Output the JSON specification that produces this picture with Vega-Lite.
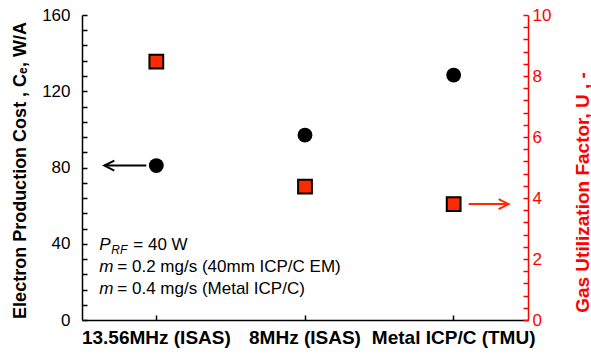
{
  "$schema": "https://vega.github.io/schema/vega-lite/v6.json",
  "width": 446,
  "height": 305,
  "autosize": {"type": "none"},
  "padding": {"left": 82, "top": 15, "right": 63, "bottom": 35},
  "config": {"font": "Liberation Sans", "view": {"stroke": null}, "axis": {"grid": false, "labelOverlap": false}},
  "datasets": {
    "main": [
      {"cat": "13.56MHz (ISAS)", "Ce": 81, "U": 8.47},
      {"cat": "8MHz (ISAS)", "Ce": 97, "U": 4.37},
      {"cat": "Metal ICP/C (TMU)", "Ce": 128.5, "U": 3.8}
    ],
    "notes": [
      {"seg": "P", "text": "P", "cat": "13.56MHz (ISAS)", "v": 39.3},
      {"seg": "RF", "text": "RF", "cat": "13.56MHz (ISAS)", "v": 39.3},
      {"seg": "eq1", "text": "= 40 W", "cat": "13.56MHz (ISAS)", "v": 39.3},
      {"seg": "m1", "text": "m", "cat": "13.56MHz (ISAS)", "v": 27.8},
      {"seg": "t1", "text": "= 0.2 mg/s (40mm ICP/C EM)", "cat": "13.56MHz (ISAS)", "v": 27.8},
      {"seg": "m2", "text": "m", "cat": "13.56MHz (ISAS)", "v": 16.3},
      {"seg": "t2", "text": "= 0.4 mg/s (Metal ICP/C)", "cat": "13.56MHz (ISAS)", "v": 16.3}
    ]
  },
  "data": {"name": "main"},
  "encoding": {
    "x": {
      "field": "cat",
      "type": "nominal",
      "sort": null,
      "axis": {
        "title": null,
        "labelAngle": 0,
        "labelFontSize": 19,
        "labelFontWeight": "bold",
        "labelColor": "black",
        "tickSize": -5,
        "tickColor": "black",
        "tickWidth": 1.5,
        "domainColor": "black",
        "domainWidth": 1.5,
        "labelPadding": 13
      }
    }
  },
  "layer": [
    {
      "layer": [
        {
          "mark": {"type": "circle", "size": 220, "color": "black", "opacity": 1},
          "encoding": {
            "y": {
              "field": "Ce",
              "type": "quantitative",
              "scale": {"domain": [0, 160]},
              "axis": {
                "values": [0, 8, 16, 24, 32, 40, 48, 56, 64, 72, 80, 88, 96, 104, 112, 120, 128, 136, 144, 152, 160],
                "tickCount": 100,
                "format": ".0f",
                "labelExpr": "datum.value % 40 == 0 ? datum.label : ''",
                "tickSize": -5,
                "tickColor": "black",
                "tickWidth": 1.5,
                "domainColor": "black",
                "domainWidth": 1.5,
                "labelFontSize": 17,
                "labelColor": "black",
                "labelPadding": 17,
                "title": "Electron Production Cost , Cₑ,  W/A",
                "titleFontSize": 18,
                "titleFontWeight": "bold",
                "titleColor": "black",
                "titleAngle": 270,
                "titleX": -62,
                "titleY": 155,
                "titleAlign": "center",
                "titleBaseline": "middle"
              }
            }
          }
        },
        {
          "transform": [{"filter": "datum.cat == '13.56MHz (ISAS)'"}],
          "mark": {"type": "rule", "xOffset": -52, "x2Offset": -10, "strokeWidth": 2, "color": "black"},
          "encoding": {
            "x2": {"field": "cat"},
            "y": {"field": "Ce", "type": "quantitative"}
          }
        },
        {
          "transform": [{"filter": "datum.cat == '13.56MHz (ISAS)'"}],
          "mark": {"type": "point", "shape": "M2,-1L0,0L2,1", "size": 100, "filled": false, "stroke": "black", "strokeWidth": 2, "xOffset": -52, "opacity": 1},
          "encoding": {
            "y": {"field": "Ce", "type": "quantitative"}
          }
        },
        {
          "data": {"name": "notes"},
          "transform": [{"filter": "datum.seg == 'P' || datum.seg == 'm1' || datum.seg == 'm2'"}],
          "mark": {"type": "text", "align": "left", "baseline": "middle", "dx": -57, "fontSize": 17, "fontStyle": "italic", "color": "black"},
          "encoding": {
            "y": {"field": "v", "type": "quantitative"},
            "text": {"field": "text"}
          }
        },
        {
          "data": {"name": "notes"},
          "transform": [{"filter": "datum.seg == 'RF'"}],
          "mark": {"type": "text", "align": "left", "baseline": "middle", "dx": -45, "dy": 5, "fontSize": 12, "fontStyle": "italic", "color": "black"},
          "encoding": {
            "y": {"field": "v", "type": "quantitative"},
            "text": {"field": "text"}
          }
        },
        {
          "data": {"name": "notes"},
          "transform": [{"filter": "datum.seg == 'eq1'"}],
          "mark": {"type": "text", "align": "left", "baseline": "middle", "dx": -23, "fontSize": 17, "color": "black"},
          "encoding": {
            "y": {"field": "v", "type": "quantitative"},
            "text": {"field": "text"}
          }
        },
        {
          "data": {"name": "notes"},
          "transform": [{"filter": "datum.seg == 't1' || datum.seg == 't2'"}],
          "mark": {"type": "text", "align": "left", "baseline": "middle", "dx": -39, "fontSize": 17, "color": "black"},
          "encoding": {
            "y": {"field": "v", "type": "quantitative"},
            "text": {"field": "text"}
          }
        }
      ]
    },
    {
      "layer": [
        {
          "mark": {"type": "square", "size": 190, "fill": "#ff2a00", "stroke": "black", "strokeWidth": 2, "filled": true, "opacity": 1},
          "encoding": {
            "y": {
              "field": "U",
              "type": "quantitative",
              "scale": {"domain": [0, 10]},
              "axis": {
                "orient": "right",
                "values": [0, 0.4, 0.8, 1.2, 1.6, 2, 2.4, 2.8, 3.2, 3.6, 4, 4.4, 4.8, 5.2, 5.6, 6, 6.4, 6.8, 7.2, 7.6, 8, 8.4, 8.8, 9.2, 9.6, 10],
                "tickCount": 100,
                "format": ".0f",
                "labelExpr": "abs(datum.value / 2 - round(datum.value / 2)) < 0.01 ? datum.label : ''",
                "tickSize": -5,
                "tickColor": "#ff0000",
                "tickWidth": 1.5,
                "domainColor": "#ff0000",
                "domainWidth": 1.5,
                "labelFontSize": 17,
                "labelColor": "#ff0000",
                "labelAlign": "left",
                "labelPadding": 9,
                "title": "Gas Utilization Factor, U , -",
                "titleFontSize": 19,
                "titleFontWeight": "bold",
                "titleColor": "#ff0000",
                "titleAngle": 270,
                "titleX": 54,
                "titleY": 177,
                "titleAlign": "center",
                "titleBaseline": "middle"
              }
            }
          }
        },
        {
          "transform": [{"filter": "datum.cat == 'Metal ICP/C (TMU)'"}],
          "mark": {"type": "rule", "xOffset": 15, "x2Offset": 55, "strokeWidth": 2, "color": "#ff2a00"},
          "encoding": {
            "x2": {"field": "cat"},
            "y": {"field": "U", "type": "quantitative"}
          }
        },
        {
          "transform": [{"filter": "datum.cat == 'Metal ICP/C (TMU)'"}],
          "mark": {"type": "point", "shape": "M-2,-1L0,0L-2,1", "size": 100, "filled": false, "stroke": "#ff2a00", "strokeWidth": 2, "xOffset": 55, "opacity": 1},
          "encoding": {
            "y": {"field": "U", "type": "quantitative"}
          }
        }
      ]
    }
  ],
  "resolve": {"scale": {"y": "independent"}}
}
